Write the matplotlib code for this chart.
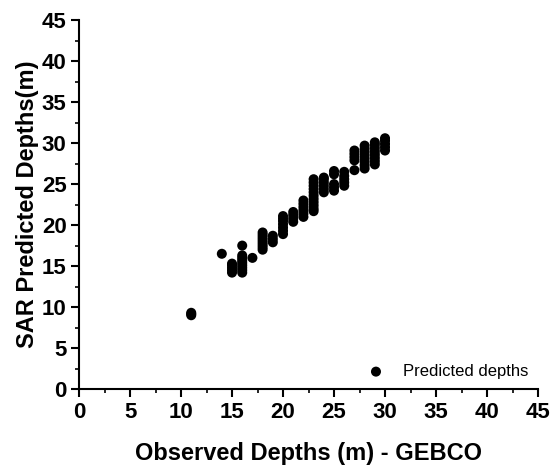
import matplotlib
matplotlib.use("Agg")
import matplotlib.pyplot as plt
from matplotlib.ticker import MultipleLocator

# Observed depth (GEBCO) columns and the predicted depths read for each
obs_11 = [9.0, 9.15, 9.3]
obs_14 = [16.5]
obs_15 = [14.2, 14.5, 14.8, 15.1, 15.3]
obs_16 = [14.2, 14.5, 14.8, 15.1, 15.4, 15.7, 16.0, 16.3, 17.5]
obs_17 = [16.0]
obs_18 = [17.0, 17.3, 17.6, 17.9, 18.2, 18.5, 18.8, 19.1]
obs_19 = [17.9, 18.3, 18.7]
obs_20 = [18.9, 19.3, 19.7, 20.1, 20.5, 20.8, 21.1]
obs_21 = [20.4, 20.8, 21.2, 21.6]
obs_22 = [21.0, 21.4, 21.8, 22.2, 22.6, 23.0]
obs_23 = [21.7, 22.0, 22.4, 22.8, 23.2, 23.6, 24.0, 24.4, 24.8, 25.2, 25.6]
obs_24 = [24.0, 24.4, 24.8, 25.2, 25.6, 25.8]
obs_25 = [24.2, 24.6, 25.0, 26.2, 26.6]
obs_26 = [24.8, 25.2, 25.6, 26.0, 26.5]
obs_27 = [26.7, 27.9, 28.3, 28.7, 29.1]
obs_28 = [26.9, 27.3, 27.7, 28.1, 28.5, 28.9, 29.3, 29.7]
obs_29 = [27.4, 27.8, 28.2, 28.6, 29.0, 29.4, 29.8, 30.1]
obs_30 = [29.1, 29.5, 29.9, 30.3, 30.6]

observed_levels = [11, 14, 15, 16, 17, 18, 19, 20, 21, 22, 23, 24, 25, 26, 27, 28, 29, 30]
predicted_groups = [obs_11, obs_14, obs_15, obs_16, obs_17, obs_18, obs_19, obs_20, obs_21,
                    obs_22, obs_23, obs_24, obs_25, obs_26, obs_27, obs_28, obs_29, obs_30]

xs, ys = [], []
for lvl, grp in zip(observed_levels, predicted_groups):
    for v in grp:
        xs.append(lvl)
        ys.append(v)

ticks = [0, 5, 10, 15, 20, 25, 30, 35, 40, 45]

plt.rcParams['font.family'] = ['Liberation Sans', 'DejaVu Sans']

fig = plt.figure(figsize=(5.53, 4.68), dpi=100)
ax = fig.add_axes([0.1429, 0.1688, 0.830, 0.788])
ax.scatter(xs, ys, s=52, color='black', edgecolors='none', label='Predicted depths', zorder=3)

ax.set_xlim(0, 45)
ax.set_ylim(0, 45)
ax.set_xticks(ticks)
ax.set_yticks(ticks)
ax.xaxis.set_minor_locator(MultipleLocator(2.5))
ax.yaxis.set_minor_locator(MultipleLocator(2.5))
ax.tick_params(which='major', direction='out', length=6, width=1.5, labelsize=16, pad=3)
ax.tick_params(which='minor', direction='out', length=3, width=1.2)
for lab in ax.get_xticklabels() + ax.get_yticklabels():
    lab.set_fontweight('bold')

for side in ['top', 'right']:
    ax.spines[side].set_visible(False)
for side in ['left', 'bottom']:
    ax.spines[side].set_linewidth(1.5)

ax.set_xlabel('Observed Depths (m) - GEBCO', fontsize=17, fontweight='bold', labelpad=14)
ax.set_ylabel('SAR Predicted Depths(m)', fontsize=17, fontweight='bold', labelpad=2)

ax.legend(loc='lower right', frameon=False, fontsize=12, handletextpad=0.6,
          borderaxespad=0.2, markerscale=1.0)

fig.savefig('out.png', dpi=100)
